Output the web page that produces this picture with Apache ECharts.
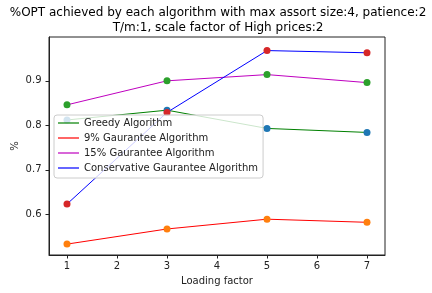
<!DOCTYPE html>
<html>
<head>
<meta charset="utf-8">
<script src="https://cdn.jsdelivr.net/npm/echarts@6/dist/echarts.min.js"></script>
<style>
html,body{margin:0;padding:0;background:#fff;}
#chart{width:432px;height:293px;}
</style>
</head>
<body>
<div id="chart"></div>
<script>
var loadingFactors = [1, 3, 5, 7];
var greedy = [0.812, 0.834, 0.793, 0.784];
var guarantee9 = [0.533, 0.567, 0.589, 0.582];
var guarantee15 = [0.846, 0.900, 0.914, 0.896];
var conservative = [0.623, 0.829, 0.968, 0.963];
var xTicks = [1, 2, 3, 4, 5, 6, 7];
var yTicks = [0.6, 0.7, 0.8, 0.9];
var seriesNames = ['Greedy Algorithm', '9% Gaurantee Algorithm', '15% Gaurantee Algorithm', 'Conservative Gaurantee Algorithm'];
var titleLines = ['%OPT achieved by each algorithm with max assort size:4, patience:2', 'T/m:1, scale factor of High prices:2'];

var FONT = 'DejaVu Sans';
var lineColors = ['#008000', '#ff0000', '#bf00bf', '#0000ff'];
var markerColors = ['#1f77b4', '#ff7f0e', '#2ca02c', '#d62728'];
var allData = [greedy, guarantee9, guarantee15, conservative];

function pairs(ys) { return loadingFactors.map(function (x, i) { return [x, ys[i]]; }); }

var series = [];
allData.forEach(function (ys, i) {
  series.push({
    name: seriesNames[i], type: 'line', data: pairs(ys), symbol: 'none', showSymbol: false,
    lineStyle: { color: lineColors[i], width: 1 }, itemStyle: { color: lineColors[i] },
    z: 2, animation: false, silent: true
  });
  series.push({
    name: seriesNames[i] + ' pts', type: 'scatter', data: pairs(ys), symbol: 'circle', symbolSize: 7,
    itemStyle: { color: markerColors[i], opacity: 1 }, z: 2, animation: false, silent: true
  });
});

var legendIcon = 'path://M0,0 L21,0 L21,1.2 L0,1.2 Z';

var chart = echarts.init(document.getElementById('chart'), null, { renderer: 'canvas' });
chart.setOption({
  backgroundColor: '#fff',
  animation: false,
  grid: { left: 49, top: 37, width: 336, height: 218, show: true, borderColor: '#222', borderWidth: 1, backgroundColor: 'transparent' },
  xAxis: {
    type: 'value', min: 0.64, max: 7.36,
    axisLine: { show: true, lineStyle: { color: '#222', width: 1 } },
    axisTick: { show: true, length: 3.5, customValues: xTicks, lineStyle: { color: '#222' } },
    axisLabel: { customValues: xTicks, margin: 6, fontFamily: FONT, fontSize: 10, color: '#222' },
    splitLine: { show: false }
  },
  yAxis: {
    type: 'value', min: 0.5085, max: 0.9985,
    axisLine: { show: true, lineStyle: { color: '#222', width: 1 } },
    axisTick: { show: true, length: 3.5, customValues: yTicks, lineStyle: { color: '#222' } },
    axisLabel: { customValues: yTicks, margin: 7.5, fontFamily: FONT, fontSize: 10, color: '#222',
      formatter: function (v) { return v.toFixed(1); } },
    splitLine: { show: false }
  },
  legend: {
    data: seriesNames.map(function (n, i) {
      return { name: n, icon: legendIcon, itemStyle: { color: lineColors[i], borderWidth: 0 } };
    }),
    orient: 'vertical', left: 54, top: 115,
    itemWidth: 21, itemHeight: 10, itemGap: 5,
    padding: [3, 5, 5, 4],
    backgroundColor: 'rgba(255,255,255,0.8)', borderColor: '#cccccc', borderWidth: 1, borderRadius: 3,
    textStyle: { fontFamily: FONT, fontSize: 10, color: '#222' },
    selectedMode: false, z: 10
  },
  graphic: [
    { type: 'text', x: 218, y: 12.8, style: { text: titleLines[0], font: '12px "DejaVu Sans"', fill: '#000', align: 'center', verticalAlign: 'middle' } },
    { type: 'text', x: 218, y: 27.5, style: { text: titleLines[1], font: '12px "DejaVu Sans"', fill: '#000', align: 'center', verticalAlign: 'middle' } },
    { type: 'text', x: 217, y: 281, style: { text: 'Loading factor', font: '10px "DejaVu Sans"', fill: '#222', align: 'center', verticalAlign: 'middle' } },
    { type: 'text', x: 15.5, y: 146, rotation: Math.PI / 2, style: { text: '%', font: '10px "DejaVu Sans"', fill: '#222', align: 'center', verticalAlign: 'middle' } }
  ],
  series: series
});
</script>
</body>
</html>
